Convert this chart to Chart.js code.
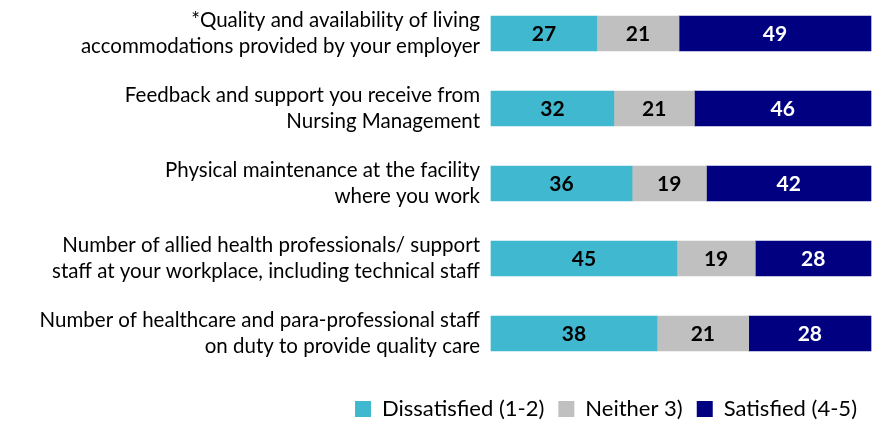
<!DOCTYPE html>
<html>
<head>
<meta charset="utf-8">
<script src="https://cdn.jsdelivr.net/npm/chart.js@4/dist/chart.umd.min.js"></script>
<style>
  html, body { margin: 0; padding: 0; background: #fff; }
  .chart-wrapper { width: 888px; height: 421px; position: relative; }
</style>
</head>
<body>
<div class="chart-wrapper"><canvas id="satisfaction-chart"></canvas></div>
<script>
const categories = [
  ["*Quality and availability of living", "accommodations provided by your employer"],
  ["Feedback and support you receive from", "Nursing Management"],
  ["Physical maintenance at the facility", "where you work"],
  ["Number of allied health professionals/ support", "staff at your workplace, including technical staff"],
  ["Number of healthcare and para-professional staff", "on duty to provide quality care"],
];
const dissatisfied = [27, 32, 36, 45, 38];
const neither = [21, 21, 19, 19, 21];
const satisfied = [49, 46, 42, 28, 28];

const seriesNames = ["Dissatisfied (1-2)", "Neither 3)", "Satisfied (4-5)"];
const seriesColors = ["#40B8CF", "#C0C0C0", "#000080"];
const labelColors = ["#000", "#000", "#fff"];

// each row is drawn as a full 100% bar
const totals = dissatisfied.map((d, i) => d + neither[i] + satisfied[i]);
function share(values) {
  return values.map((v, i) => (v / totals[i]) * 100);
}

const valueLabels = {
  id: "valueLabels",
  afterDatasetsDraw(chart) {
    const ctx = chart.ctx;
    ctx.save();
    ctx.font = "bold 21px Lato";
    ctx.textAlign = "center";
    ctx.textBaseline = "middle";
    chart.data.datasets.forEach((ds, i) => {
      const meta = chart.getDatasetMeta(i);
      meta.data.forEach((bar, j) => {
        ctx.fillStyle = ds.labelColor;
        ctx.fillText(ds.rawValues[j], (bar.x + bar.base) / 2, bar.y + 1);
      });
    });
    ctx.restore();
  },
};

const rows = [dissatisfied, neither, satisfied];

new Chart(document.getElementById("satisfaction-chart"), {
  type: "bar",
  data: {
    labels: categories,
    datasets: rows.map((values, i) => ({
      label: seriesNames[i],
      data: share(values),
      rawValues: values,
      labelColor: labelColors[i],
      backgroundColor: seriesColors[i],
      borderWidth: 0,
      barThickness: 35,
      clip: false,
    })),
  },
  options: {
    indexAxis: "y",
    responsive: true,
    maintainAspectRatio: false,
    animation: false,
    layout: {
      padding: { top: 33.5, right: 17, bottom: -9, left: 0 },
    },
    plugins: {
      tooltip: { enabled: false },
      legend: {
        position: "bottom",
        align: "end",
        labels: {
          color: "#000",
          font: { family: "Lato", size: 22 },
          boxWidth: 16,
          boxHeight: 16,
          padding: 14,
        },
      },
    },
    scales: {
      x: {
        stacked: true,
        min: 0,
        max: 100,
        grid: { display: false, drawTicks: false, tickLength: 0 },
        border: { display: false },
        ticks: { display: false },
        afterFit(scale) {
          scale.height = 50.5;
        },
      },
      y: {
        stacked: true,
        offset: false,
        grid: { display: false, drawTicks: false, tickLength: 0 },
        border: { display: false },
        ticks: {
          color: "#000",
          padding: 11,
          font: { family: "Lato", size: 20.5, lineHeight: 1.3 },
        },
        afterFit(scale) {
          scale.width = 491;
          scale.paddingTop = 0;
          scale.paddingBottom = 0;
        },
      },
    },
  },
  plugins: [valueLabels],
});
</script>
</body>
</html>
